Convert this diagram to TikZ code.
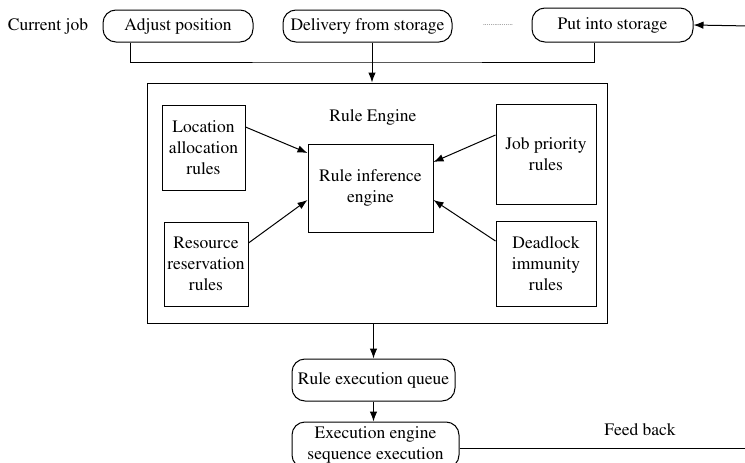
\documentclass[tikz,border=0pt]{standalone}
\usepackage[T1]{fontenc}
\usepackage{times}
\usetikzlibrary{arrows.meta}

\begin{document}
\begin{tikzpicture}[x=1pt,y=-1pt,line width=1pt,
	font=\fontsize{17.5}{21}\selectfont,
	job/.style={draw,rounded corners=13pt,inner sep=0pt,align=center},
	rulebox/.style={draw,inner sep=0pt,align=center},
	arr/.style={-{Latex[length=10pt,width=7.5pt]}}]
			\clip (0,0) rectangle (745,463);
			
			\node (cur) at (48,26) {Current job};
			\node[job,minimum width=150,minimum height=32] (adj) at (178,26) {Adjust position};
			\node[job,minimum width=169,minimum height=32] (del) at (367.5,26) {Delivery from storage};
			\node (dots) at (498,25) {\fontsize{7.5}{8}\selectfont ................};
			\node[job,minimum width=161,minimum height=34] (put) at (612.5,25) {Put into storage};
			\coordinate (in) at (750,26); \draw[arr] (in) -- (put.east);
			
			\coordinate (jn) at (372,62);
			\draw ([xshift=-48pt]adj.south) |- (jn) -| ([xshift=-18.5pt]put.south);
			
			\node[rulebox,minimum width=460,minimum height=240] (eng) at (377,203) {};
			\node (title) at (373,117) {Rule Engine};
			\draw[arr] ([xshift=4.5pt]del.south) -- ([xshift=4.5pt]del.south |- eng.north);
			
			\node[rulebox,minimum width=125,minimum height=88] (inf) at (370.5,188) {Rule inference\\engine};
			\node[rulebox,minimum width=83,minimum height=85] (loc) at (203.5,147.5) {Location\\allocation\\rules};
			\node[rulebox,minimum width=84,minimum height=84] (res) at (206,264) {Resource\\reservation\\rules};
			\node[rulebox,minimum width=100,minimum height=100] (pri) at (546,154) {Job priority\\rules};
			\node[rulebox,minimum width=100,minimum height=85] (dead) at (546,263.5) {Deadlock\\immunity\\rules};
			
			\draw[arr] ([yshift=20.5pt]loc.east) -- ([yshift=35pt]inf.west);
			\draw[arr] ([yshift=21pt]res.east) -- ([yshift=-12pt]inf.west);
			\draw[arr] ([yshift=19pt]pri.west) -- ([yshift=26pt]inf.east);
			\draw[arr] ([yshift=22.5pt]dead.west) -- ([yshift=-12pt]inf.east);
			
			\node[job,minimum width=163,minimum height=42] (queue) at (373.5,380) {Rule execution queue};
			\node[job,minimum width=167,minimum height=46] (exe) at (375.5,445) {Execution engine\\sequence execution};
			\draw[arr] (queue.north |- eng.south) -- (queue.north);
			\draw[arr] (queue.south) -- (queue.south |- exe.north);
			
			\node (fb) at (640,430) {Feed back};
			\coordinate (out) at (750,448); \draw ([yshift=-3pt]exe.east) -- ([yshift=-3pt]exe.east -| out);
\end{tikzpicture}
\end{document}
